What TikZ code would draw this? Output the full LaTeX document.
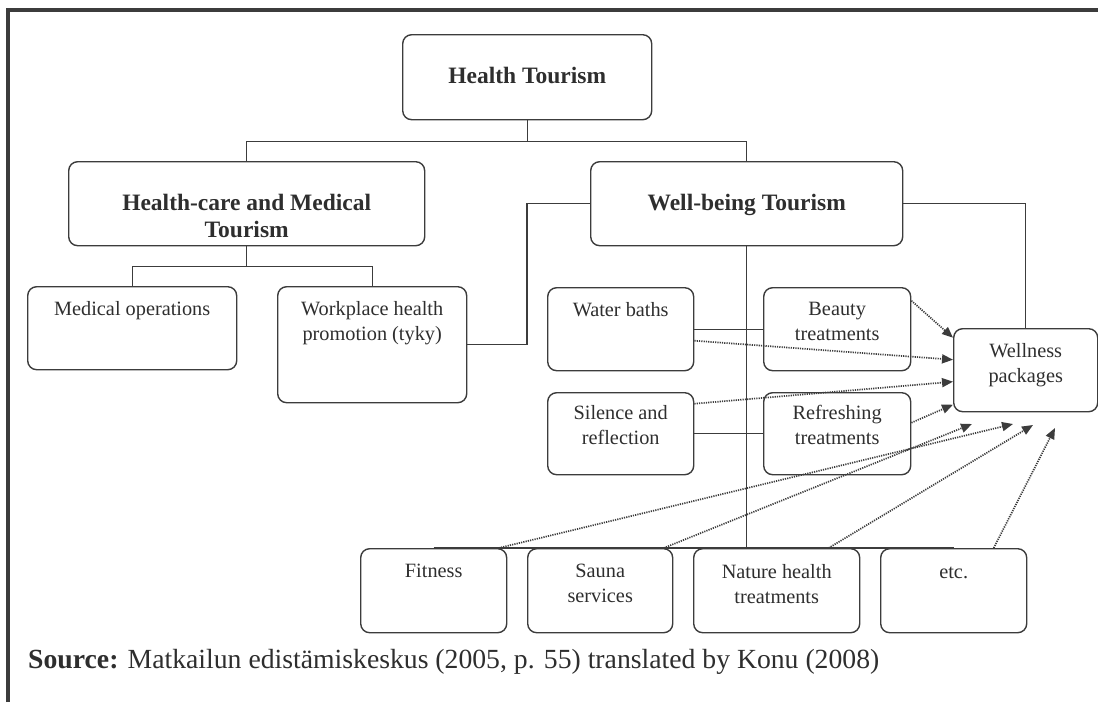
\documentclass[tikz,border=0pt]{standalone}
\usepackage{fontspec}
\setmainfont{Liberation Serif}
\usetikzlibrary{arrows.meta}

\definecolor{linegray}{HTML}{3C3C3C}
\definecolor{textgray}{HTML}{2E2E2E}

\tikzset{
  box/.style 2 args={draw=linegray, line width=1.4pt, rounded corners=9pt,
    minimum width=#1, minimum height=#2, inner sep=0pt, anchor=north west},
  txt/.style={align=center, inner sep=0pt, anchor=north, yshift=-15pt,
    text=textgray, font=\fontsize{20.3}{25}\selectfont},
  head/.style={txt, yshift=-18pt, font=\bfseries\fontsize{23.5}{27}\selectfont},
  link/.style={draw=linegray, line width=1.4pt},
  feed/.style={draw=linegray, line width=1.7pt, dash pattern=on 1.2pt off 1.1pt,
    -{Triangle[length=11pt,width=9pt]}}
}

\begin{document}
\begin{tikzpicture}[x=1pt,y=-1pt]
\useasboundingbox (0,0) rectangle (1098,702);
% frame
\draw [linegray, line width=4pt] (8,702) -- (8,10) -- (1098,10);

% top levels
\node [box={249pt}{85pt}, label={[head]90:Health Tourism}] (ht) at (402,34) {};
\node [box={356pt}{84pt}, label={[head]90:{Health-care and Medical\\Tourism}}] (hc) at (68,161) {};
\node [box={312pt}{84pt}, label={[head]90:Well-being Tourism}] (wb) at (590,161) {};

% health-care branch
\node [box={209pt}{83pt}, label={[txt]90:Medical operations}] (medical) at (27,286) {};
\node [box={189pt}{116pt}, label={[txt]90:{Workplace health\\promotion (tyky)}}] (work) at (277,286) {};

% well-being branch
\node [box={146pt}{83pt}, label={[txt]90:Water baths}] (water) at (547,287) {};
\node [box={147pt}{83pt}, label={[txt]90:{Beauty\\treatments}}] (beauty) at (763,287) {};
\node [box={146pt}{82pt}, label={[txt,yshift=2pt]90:{Silence and\\reflection}}] (silence) at (547,392) {};
\node [box={147pt}{82pt}, label={[txt,yshift=2pt]90:{Refreshing\\treatments}}] (refresh) at (763,392) {};
\node [box={144pt}{83pt}, label={[txt]90:{Wellness\\packages}}] (wellness) at (953,328) {};

% bottom row
\node [box={146pt}{84pt}, label={[txt,yshift=-1pt]90:Fitness}] (fitness) at (360,548) {};
\node [box={145pt}{84pt}, label={[txt,yshift=-1pt]90:{Sauna\\services}}] (sauna) at (527,548) {};
\node [box={166pt}{84pt}, label={[txt,yshift=-1pt]90:{Nature health\\treatments}}] (nature) at (693,548) {};
\node [box={146pt}{84pt}, label={[txt,yshift=-4pt]90:etc.}] (etc) at (880,548) {};

% tree lines
\draw [link] (ht.south) -- ++(0,21) coordinate (htsplit);
\draw [link] (htsplit) -| (hc.north);
\draw [link] (htsplit) -| (wb.north);
\draw [link] (hc.south) -- ++(0,20) coordinate (hcsplit);
\draw [link] (hcsplit) -| (medical.north);
\draw [link] (hcsplit) -| (work.north);
\draw [link] (wb.west) -- ++(-63,0) |- (work.east);
\draw [link] (wb.east) -| (wellness.north);
\draw [link] (wb.south) -- (wb.south |- fitness.north);
\draw [link] (fitness.north) -- (etc.north);
\draw [link] (water.east) -- (beauty.west);
\draw [link] (silence.east) -- (refresh.west);

% dotted feeds into the packages
\coordinate (tipsauna) at (972,424);
\coordinate (tipfit) at (1013,424);
\coordinate (tipnat) at (1033,425);
\coordinate (tipetc) at (1055,428);
\draw [feed] ([yshift=28.5pt]beauty.east) -- ([yshift=32.5pt]wellness.west);
\draw [feed] ([yshift=-11.5pt]water.east) -- ([yshift=10.5pt]wellness.west);
\draw [feed] ([yshift=30pt]silence.east) -- ([yshift=-11.5pt]wellness.west);
\draw [feed] ([yshift=11pt]refresh.east) -- ([yshift=-34.5pt]wellness.west);
\draw [feed] ([xshift=65pt]fitness.north) -- (tipfit);
\draw [feed] ([xshift=63.5pt]sauna.north) -- (tipsauna);
\draw [feed] ([xshift=52pt]nature.north) -- (tipnat);
\draw [feed] ([xshift=40pt]etc.north) -- (tipetc);

% source line
\node [anchor=base west, inner sep=0pt, text=textgray, font=\fontsize{27.7}{30}\selectfont]
  (source) at (28,668) {\textbf{Source:} Matkailun edistämiskeskus (2005, p. 55) translated by Konu (2008)};
\end{tikzpicture}
\end{document}
